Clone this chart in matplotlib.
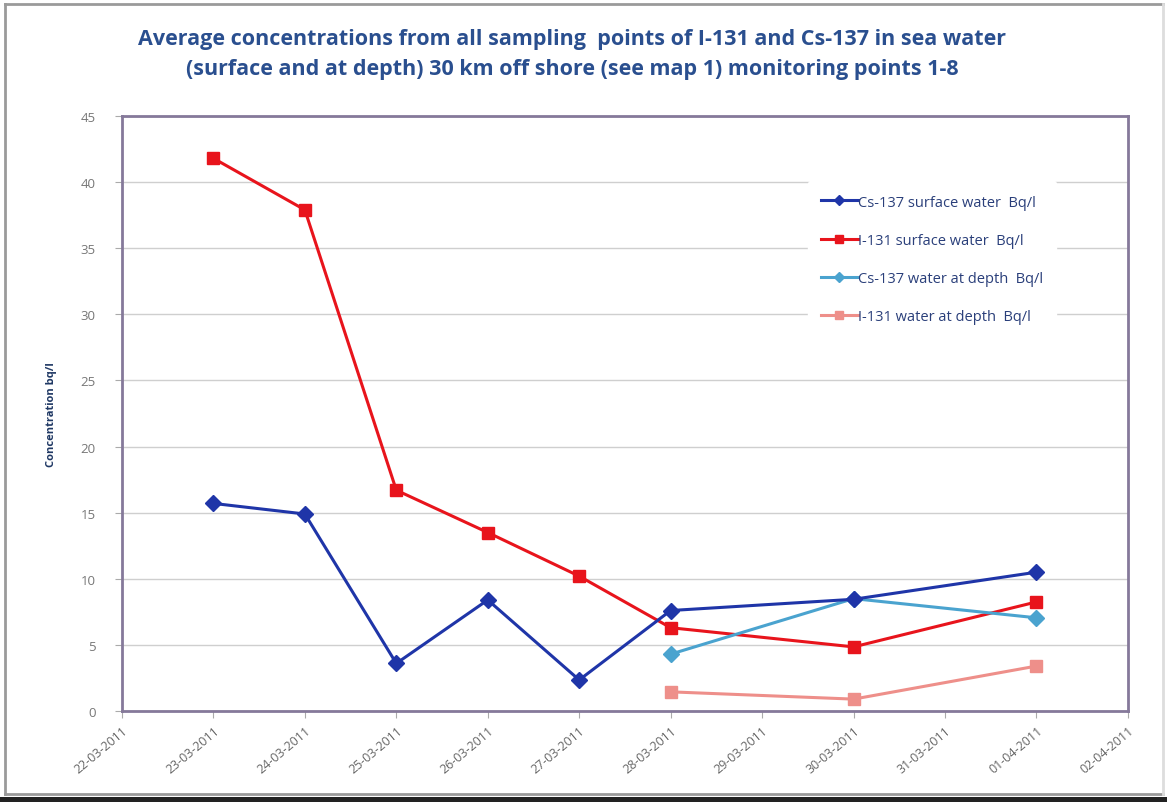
import datetime as dt

import matplotlib.pyplot as plt
import matplotlib.dates as mdates
from matplotlib.lines import Line2D
from matplotlib.patches import Rectangle

# sampling dates and averaged concentrations (Bq/l)
dates_surface = ["2011-03-23", "2011-03-24", "2011-03-25", "2011-03-26",
                 "2011-03-27", "2011-03-28", "2011-03-30", "2011-04-01"]
cs137_surface = [15.7, 14.9, 3.6, 8.4, 2.35, 7.6, 8.45, 10.5]
i131_surface = [41.8, 37.9, 16.7, 13.5, 10.2, 6.3, 4.85, 8.25]

dates_depth = ["2011-03-28", "2011-03-30", "2011-04-01"]
cs137_depth = [4.3, 8.5, 7.05]
i131_depth = [1.45, 0.9, 3.4]

tick_dates = ["2011-03-22", "2011-03-23", "2011-03-24", "2011-03-25",
              "2011-03-26", "2011-03-27", "2011-03-28", "2011-03-29",
              "2011-03-30", "2011-03-31", "2011-04-01", "2011-04-02"]


def to_dates(strs):
    return [dt.datetime.strptime(s, "%Y-%m-%d") for s in strs]


plt.rcParams['font.family'] = ['Open Sans', 'DejaVu Sans']

fig = plt.figure(figsize=(11.67, 8.03), dpi=100)
fig.patch.set_facecolor("white")

# page border: gray top/left/bottom, faint right, dark strip under it
W, H = 1167.0, 803.0
for xs, ys, col in [((5, 1163), (798, 798), "#9a9a9a"),
                    ((5, 5), (8, 798), "#9a9a9a"),
                    ((5, 1163), (8, 8), "#9a9a9a"),
                    ((1163, 1163), (8, 798), "#dddddd")]:
    fig.add_artist(Line2D([x / W for x in xs], [y / H for y in ys],
                          transform=fig.transFigure, color=col, lw=2.0))
fig.patches.append(Rectangle((0.0, 0.0), 1.0, 5.5 / H, transform=fig.transFigure,
                             facecolor="#222222", edgecolor="none"))

ax = fig.add_axes([0.1045, 0.1133, 0.862, 0.741])

ax.plot(to_dates(dates_surface), cs137_surface, color="#1f35a8", lw=2.2,
        marker="D", markersize=8, label="Cs-137 surface water  Bq/l", zorder=4)
ax.plot(to_dates(dates_surface), i131_surface, color="#e8141c", lw=2.2,
        marker="s", markersize=9, label="I-131 surface water  Bq/l", zorder=3)
ax.plot(to_dates(dates_depth), cs137_depth, color="#4aa3cf", lw=2.2,
        marker="D", markersize=8, label="Cs-137 water at depth  Bq/l", zorder=3)
ax.plot(to_dates(dates_depth), i131_depth, color="#ee8f8a", lw=2.2,
        marker="s", markersize=9, label="I-131 water at depth  Bq/l", zorder=3)

ticks = to_dates(tick_dates)
ax.set_xlim(ticks[0], ticks[-1])
ax.set_xticks(ticks)
ax.xaxis.set_major_formatter(mdates.DateFormatter("%d-%m-%Y"))
for lbl in ax.get_xticklabels():
    lbl.set_rotation(40)
    lbl.set_ha("right")
    lbl.set_rotation_mode("anchor")
    lbl.set_color("#666666")
    lbl.set_fontsize(9)

ax.set_ylim(0, 45)
ax.set_yticks(range(0, 46, 5))
ax.tick_params(axis="y", labelsize=9.5, labelcolor="#777777", length=5,
               color="#aaaaaa", pad=14)
ax.tick_params(axis="x", length=5, color="#aaaaaa", pad=4)
ax.grid(axis="y", color="#cfcfcf", lw=1.0)
ax.set_axisbelow(True)

for sp in ax.spines.values():
    sp.set_color("#85799a")
    sp.set_linewidth(2.0)

ax.set_ylabel("Concentration bq/l", fontsize=8, fontweight="bold",
              color="#1f3864", labelpad=17)

fig.text(0.49, 0.951, "Average concentrations from all sampling  points of I-131 and Cs-137 in sea water",
         ha="center", va="center", fontsize=15.5, fontweight="bold", color="#2a4f8f")
fig.text(0.49, 0.913, "(surface and at depth) 30 km off shore (see map 1) monitoring points 1-8",
         ha="center", va="center", fontsize=15.5, fontweight="bold", color="#2a4f8f")

leg = ax.legend(loc="upper left", bbox_to_anchor=(0.682, 0.89), frameon=True,
                fontsize=10.5, labelspacing=1.58, handlelength=2.5, handletextpad=0.0,
                markerscale=0.6, borderpad=0.9, borderaxespad=0.0)
leg.get_frame().set_facecolor("white")
leg.get_frame().set_edgecolor("white")
leg.get_frame().set_alpha(1.0)
for t in leg.get_texts():
    t.set_color("#2a3f7a")

fig.savefig("out.png", dpi=100)
